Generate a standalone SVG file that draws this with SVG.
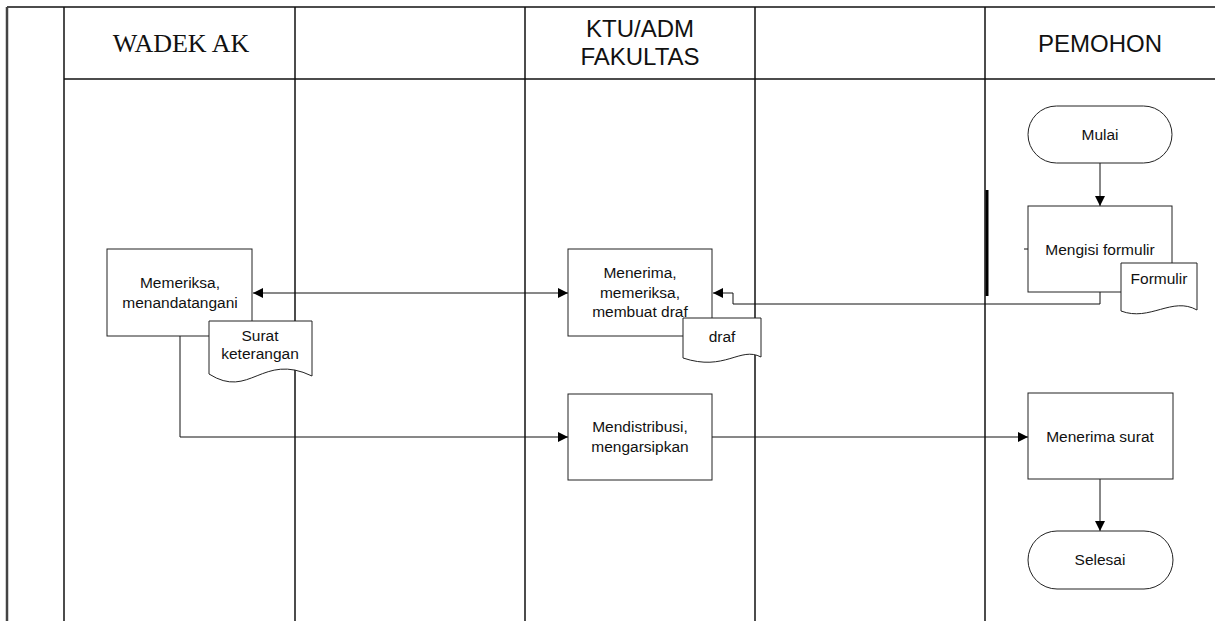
<svg xmlns="http://www.w3.org/2000/svg" width="1215" height="621" viewBox="0 0 1215 621">
<style>
.lane{stroke:#111;stroke-width:1.5;fill:none}
.box{fill:#fff;stroke:#222;stroke-width:1}
.t{font-family:"Liberation Sans",Arial,sans-serif;font-size:15.5px;fill:#111;text-anchor:middle}
.h{font-family:"Liberation Sans",Arial,sans-serif;font-size:24px;fill:#111;text-anchor:middle}
.hs{font-family:"Liberation Serif","Times New Roman",serif;font-size:26px;fill:#111;text-anchor:middle}
.c{stroke:#111;stroke-width:1;fill:none}
</style>
<defs>
<marker id="ah" viewBox="0 0 10 10" refX="10" refY="5" markerWidth="10" markerHeight="10" markerUnits="userSpaceOnUse" orient="auto-start-reverse">
<path d="M0,0 L10,5 L0,10 Z" fill="#000"/>
</marker>
</defs>
<rect width="1215" height="621" fill="#fff"/>
<g id="lanes">
<line x1="7" y1="7" x2="1215" y2="7" class="lane"/>
<line x1="7" y1="7" x2="7" y2="621" stroke="#444" stroke-width="2.5"/>
<line x1="64" y1="79" x2="1215" y2="79" class="lane" stroke="#333"/>
<line x1="64" y1="7" x2="64" y2="621" class="lane"/>
<line x1="295" y1="7" x2="295" y2="621" class="lane"/>
<line x1="525" y1="7" x2="525" y2="621" class="lane"/>
<line x1="755" y1="7" x2="755" y2="621" class="lane"/>
<line x1="985" y1="7" x2="985" y2="621" class="lane"/>
<text x="181" y="52" class="hs">WADEK AK</text>
<text x="640" y="37" class="h">KTU/ADM</text>
<text x="640" y="65" class="h">FAKULTAS</text>
<text x="1100" y="52" class="h">PEMOHON</text>
</g>
<g id="connectors">
<line x1="1100" y1="163" x2="1100" y2="206" class="c" marker-end="url(#ah)"/>
<polyline points="1100,292 1100,304 733,304 733,293 713,293" class="c" marker-end="url(#ah)"/>
<line x1="253" y1="293" x2="568" y2="293" class="c" marker-start="url(#ah)" marker-end="url(#ah)"/>
<polyline points="180,336 180,437 568,437" class="c" marker-end="url(#ah)"/>
<line x1="712" y1="437" x2="1028" y2="437" class="c" marker-end="url(#ah)"/>
<line x1="1100" y1="479" x2="1100" y2="531" class="c" marker-end="url(#ah)"/>
<line x1="987" y1="190" x2="987" y2="296" stroke="#000" stroke-width="3"/>
<line x1="1024" y1="249" x2="1028" y2="249" class="c"/>
</g>
<g id="mulai">
<rect x="1028" y="106" width="144" height="57" rx="28.5" class="box"/>
<text x="1100" y="140" class="t">Mulai</text>
</g>
<g id="mengisi">
<rect x="1028" y="206" width="144" height="86" class="box"/>
<text x="1100" y="255" class="t">Mengisi formulir</text>
</g>
<g id="formulir">
<path d="M1121,263 H1197 V310 C1172,296 1150,322 1121,311 Z" class="box"/>
<text x="1159" y="284" class="t">Formulir</text>
</g>
<g id="menerima">
<rect x="568" y="249" width="144" height="87" class="box"/>
<text x="640" y="278" class="t">Menerima,</text>
<text x="640" y="298" class="t">memeriksa,</text>
<text x="640" y="317" class="t">membuat draf</text>
</g>
<g id="draf">
<path d="M683,318 H761 V357 C740,346 725,372 683,358 Z" class="box"/>
<text x="722" y="342" class="t">draf</text>
</g>
<g id="memeriksa">
<rect x="107" y="249" width="145" height="87" class="box"/>
<text x="180" y="288" class="t">Memeriksa,</text>
<text x="180" y="308" class="t">menandatangani</text>
</g>
<g id="surat">
<path d="M209,321 H312 V376 C262,352 250,400 209,374 Z" class="box"/>
<text x="260" y="341" class="t">Surat</text>
<text x="260" y="359" class="t">keterangan</text>
</g>
<g id="mendistribusi">
<rect x="568" y="394" width="144" height="86" class="box"/>
<text x="640" y="432" class="t">Mendistribusi,</text>
<text x="640" y="452" class="t">mengarsipkan</text>
</g>
<g id="menerima-surat">
<rect x="1028" y="393" width="145" height="86" class="box"/>
<text x="1100" y="442" class="t">Menerima surat</text>
</g>
<g id="selesai">
<rect x="1028" y="531" width="145" height="58" rx="29" class="box"/>
<text x="1100" y="565" class="t">Selesai</text>
</g>
</svg>
